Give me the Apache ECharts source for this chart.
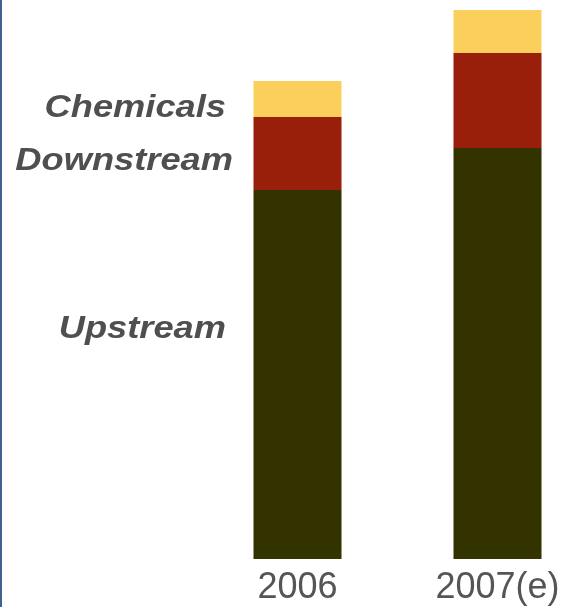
<!DOCTYPE html>
<html>
<head>
<meta charset="utf-8">
<script src="https://cdn.jsdelivr.net/npm/echarts@6/dist/echarts.min.js"></script>
<style>
  html, body { margin: 0; padding: 0; background: #fff; }
  #chart { width: 564px; height: 607px; }
</style>
</head>
<body>
<div id="chart"></div>
<script>
// Segment sizes per year (stacked bottom to top)
const years = ['2006', '2007(e)'];
const upstream = [369, 411];
const downstream = [73, 95];
const chemicals = [36, 43];
const segmentNames = ['Upstream', 'Downstream', 'Chemicals'];

const chart = echarts.init(document.getElementById('chart'), null, { renderer: 'canvas' });

const textStyle = {
  fill: '#4f4f4f',
  font: 'italic bold 31px "Liberation Sans", Arial, sans-serif',
  textAlign: 'right',
  textVerticalAlign: 'middle'
};

// Segment names, right-aligned left of the first column (slightly widened type)
function sideLabel(text, x, y) {
  return { type: 'text', x: x, y: y, scaleX: 1.17, style: Object.assign({ text: text, x: 0, y: 0 }, textStyle) };
}

chart.setOption({
  animation: false,
  backgroundColor: '#ffffff',
  grid: { left: 197.5, width: 400, top: 0, bottom: 48, containLabel: false, outerBoundsMode: 'none' },
  xAxis: {
    type: 'category',
    data: years,
    axisLine: { show: false },
    axisTick: { show: false },
    axisLabel: {
      color: '#555555',
      fontSize: 36,
      fontFamily: '"Liberation Sans", Arial, sans-serif',
      margin: 11
    }
  },
  yAxis: {
    type: 'value',
    min: 0,
    max: 559,
    show: false,
    splitLine: { show: false }
  },
  series: [
    { name: segmentNames[0], type: 'bar', stack: 'total', data: upstream, barWidth: 88, itemStyle: { color: '#333300' } },
    { name: segmentNames[1], type: 'bar', stack: 'total', data: downstream, barWidth: 88, itemStyle: { color: '#9a1f0b' } },
    { name: segmentNames[2], type: 'bar', stack: 'total', data: chemicals, barWidth: 88, itemStyle: { color: '#fbcf5c' } }
  ],
  graphic: [
    { type: 'rect', left: 0, top: 0, shape: { x: 0, y: 0, width: 2, height: 607 }, style: { fill: '#41618f' } },
    sideLabel(segmentNames[2], 226, 108),
    sideLabel(segmentNames[1], 233, 161),
    sideLabel(segmentNames[0], 226, 329)
  ]
});
</script>
</body>
</html>
